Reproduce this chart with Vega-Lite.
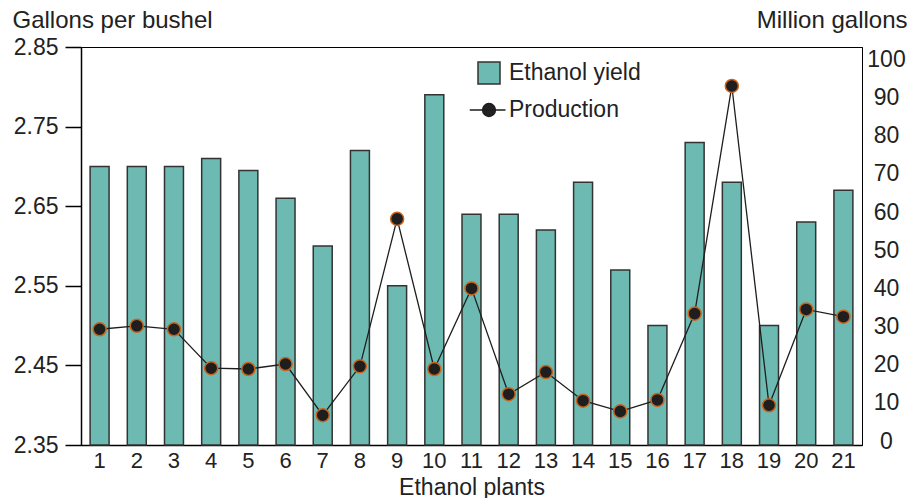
{
  "$schema": "https://vega.github.io/schema/vega-lite/v6.json",
  "width": 781,
  "height": 398,
  "autosize": {"type": "none"},
  "padding": {"left": 81, "top": 47, "right": 45, "bottom": 53},
  "background": "white",
  "config": {
    "view": {"stroke": "#000", "strokeWidth": 1},
    "font": "Liberation Sans",
    "axis": {"labelFont": "Liberation Sans", "titleFont": "Liberation Sans", "labelColor": "#222", "titleColor": "#222", "titleFontWeight": "normal", "domainColor": "#000", "tickColor": "#000", "grid": false},
    "legend": {"labelFont": "Liberation Sans"}
  },
  "data": {
    "values": [
      {"plant": 1, "yield": 2.70, "production": 29.3},
      {"plant": 2, "yield": 2.70, "production": 30.2},
      {"plant": 3, "yield": 2.70, "production": 29.3},
      {"plant": 4, "yield": 2.71, "production": 19.1},
      {"plant": 5, "yield": 2.695, "production": 18.9},
      {"plant": 6, "yield": 2.66, "production": 20.2},
      {"plant": 7, "yield": 2.60, "production": 6.8},
      {"plant": 8, "yield": 2.72, "production": 19.6},
      {"plant": 9, "yield": 2.55, "production": 58.2},
      {"plant": 10, "yield": 2.79, "production": 18.9},
      {"plant": 11, "yield": 2.64, "production": 40.0},
      {"plant": 12, "yield": 2.64, "production": 12.3},
      {"plant": 13, "yield": 2.62, "production": 18.1},
      {"plant": 14, "yield": 2.68, "production": 10.6},
      {"plant": 15, "yield": 2.57, "production": 7.8},
      {"plant": 16, "yield": 2.50, "production": 10.8},
      {"plant": 17, "yield": 2.73, "production": 33.4},
      {"plant": 18, "yield": 2.68, "production": 93.0},
      {"plant": 19, "yield": 2.50, "production": 9.4},
      {"plant": 20, "yield": 2.63, "production": 34.5},
      {"plant": 21, "yield": 2.67, "production": 32.6}
    ]
  },
  "encoding": {
    "x": {
      "field": "plant", "type": "ordinal",
      "scale": {"paddingInner": 0.49, "paddingOuter": 0.245},
      "axis": {"title": "Ethanol plants", "labelAngle": 0, "ticks": false, "tickSize": 0, "labelPadding": 5, "labelFontSize": 22, "titleFontSize": 23, "titleBaseline": "alphabetic", "titleY": 49, "domainWidth": 1.5}
    }
  },
  "layer": [
    {
      "mark": {"type": "bar", "stroke": "#333", "strokeWidth": 1.5},
      "encoding": {
        "y": {
          "field": "yield", "type": "quantitative",
          "scale": {"domain": [2.35, 2.85], "nice": false, "zero": false},
          "axis": {"title": "Gallons per bushel", "titleAngle": 0, "titleAlign": "left", "titleBaseline": "alphabetic", "titleX": -69, "titleY": -20, "titleFontSize": 24, "values": [2.35, 2.45, 2.55, 2.65, 2.75, 2.85], "format": ".2f", "labelFontSize": 23, "tickSize": 16, "tickWidth": 1.5, "domainWidth": 1.5, "labelPadding": 7,
            "encode": {"labels": {"update": {"dy": {"signal": "datum.value >= 2.849 ? 8 : 0"}}}}}
        },
        "y2": {"datum": 2.35},
        "fill": {
          "datum": "Ethanol yield",
          "scale": {"domain": ["Ethanol yield", "Production"], "range": ["#6cbab2", "#222222"]},
          "legend": {
            "title": null, "orient": "none", "legendX": 396, "legendY": 14,
            "labelFontSize": 23, "labelColor": "#222", "symbolSize": 484, "rowPadding": 11, "labelOffset": 8,
            "symbolStrokeWidth": 1.5, "symbolStrokeColor": "#333",
            "encode": {
              "symbols": {
                "update": {
                  "shape": {"signal": "datum.value === 'Production' ? 'M-1.75,0H1.5M0.58,0A0.58,0.58,0,1,1,-0.58,0A0.58,0.58,0,1,1,0.58,0' : 'square'"},
                  "fill": {"signal": "datum.value === 'Production' ? '#1e1e1e' : '#6cbab2'"},
                  "stroke": {"signal": "datum.value === 'Production' ? '#1e1e1e' : '#333333'"},
                  "strokeWidth": {"value": 1.5},
                  "opacity": {"value": 1}
                }
              }
            }
          }
        }
      }
    },
    {
      "encoding": {
        "y": {
          "field": "production", "type": "quantitative",
          "scale": {"domain": [-1, 103.2], "nice": false, "zero": false},
          "axis": {"orient": "right", "title": "Million gallons", "titleAngle": 0, "titleAlign": "right", "titleBaseline": "alphabetic", "titleX": 45, "titleY": -20, "titleFontSize": 24, "values": [0, 10, 20, 30, 40, 50, 60, 70, 80, 90, 100], "labelFontSize": 23, "ticks": false, "tickSize": 0, "labelAlign": "center", "labelPadding": 24, "domainWidth": 1}
        }
      },
      "layer": [
        {"mark": {"type": "line", "color": "#1e1e1e", "strokeWidth": 1.3}},
        {"mark": {"type": "point", "filled": true, "fill": "#1e1e1e", "stroke": "#c8641e", "strokeWidth": 1.5, "size": 170, "opacity": 1}}
      ]
    }
  ],
  "resolve": {"scale": {"y": "independent"}}
}
